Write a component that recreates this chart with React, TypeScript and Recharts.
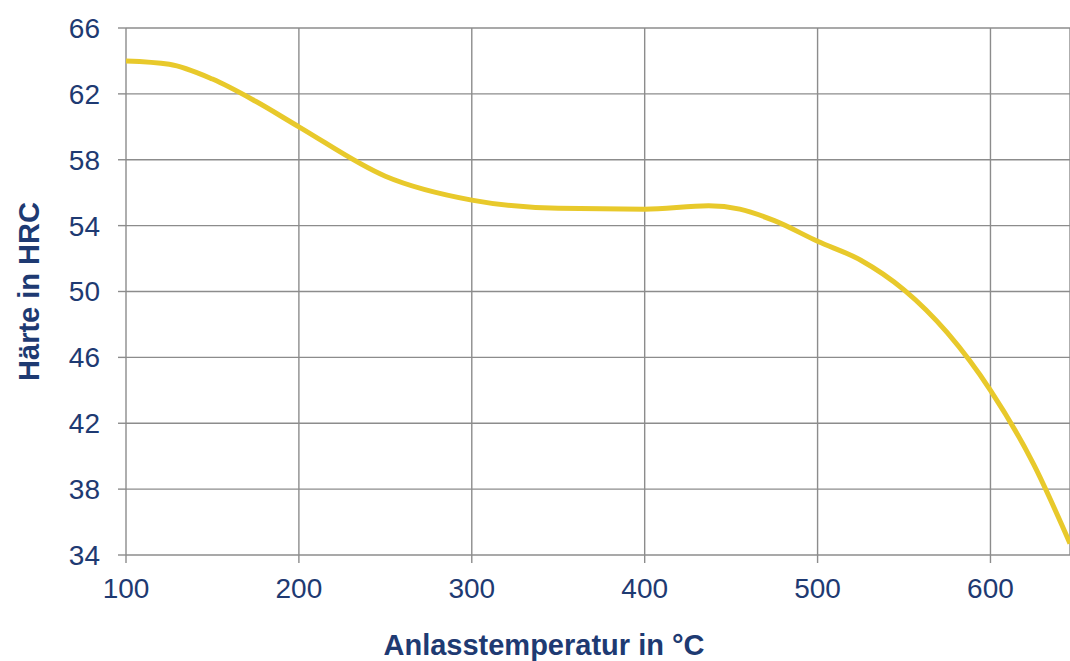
import React from "react";
import { LineChart, Line, XAxis, YAxis, CartesianGrid, Label } from "recharts";

const temperatures = [100, 125, 150, 175, 200, 250, 300, 350, 400, 437, 455, 475, 500, 525, 550, 575, 600, 625, 646];
const hardness = [64, 63.8, 62.9, 61.55, 60, 57, 55.55, 55.05, 55.0, 55.2, 55.0, 54.3, 53.05, 51.9, 50.1, 47.5, 44.0, 39.5, 34.7];
const xTicks = [100, 200, 300, 400, 500, 600];
const yTicks = [34, 38, 42, 46, 50, 54, 58, 62, 66];

const data = temperatures.map((t, i) => ({ t, h: hardness[i] }));

const NAVY = "#1E3A72";
const FONT = "'Liberation Sans', Arial, sans-serif";

export default function App() {
  return (
    <div style={{ position: "absolute", left: 0, top: 0, width: 1070, height: 661, background: "#fff" }}>
      <LineChart width={1070} height={661} data={data} margin={{ top: 28, right: 0, bottom: 0, left: 0 }}>
        <CartesianGrid stroke="#8c8c8c" strokeWidth={1.4} vertical horizontal />
        <XAxis
          dataKey="t"
          type="number"
          domain={[100, 646]}
          ticks={xTicks}
          allowDataOverflow
          height={106}
          axisLine={false}
          tickLine={{ stroke: "#8c8c8c", strokeWidth: 1.4 }}
          tickSize={8}
          tickMargin={15}
          tick={{ fill: NAVY, fontSize: 28, fontFamily: FONT }}
        >
          <Label
            content={(props: any) => {
              const vb = props.viewBox || {};
              return (
                <text
                  x={544}
                  y={vb.y + 90}
                  textAnchor="middle"
                  dominantBaseline="central"
                  fill={NAVY}
                  fontSize={29}
                  fontWeight="bold"
                  fontFamily={FONT}
                >
                  Anlasstemperatur in °C
                </text>
              );
            }}
          />
        </XAxis>
        <YAxis
          type="number"
          domain={[34, 66]}
          ticks={yTicks}
          width={126}
          axisLine={false}
          tickLine={{ stroke: "#8c8c8c", strokeWidth: 1.4 }}
          tickSize={8}
          tickMargin={18}
          tick={{ fill: NAVY, fontSize: 28, fontFamily: FONT }}
        >
          <Label
            content={(props: any) => {
              const vb = props.viewBox || {};
              const cy = vb.y + vb.height / 2;
              return (
                <text
                  x={29}
                  y={cy}
                  transform={`rotate(-90, 29, ${cy})`}
                  textAnchor="middle"
                  dominantBaseline="central"
                  fill={NAVY}
                  fontSize={29}
                  fontWeight="bold"
                  fontFamily={FONT}
                >
                  Härte in HRC
                </text>
              );
            }}
          />
        </YAxis>
        <Line
          type="monotone"
          dataKey="h"
          stroke="#E8C92B"
          strokeWidth={5}
          dot={false}
          isAnimationActive={false}
        />
      </LineChart>
    </div>
  );
}
